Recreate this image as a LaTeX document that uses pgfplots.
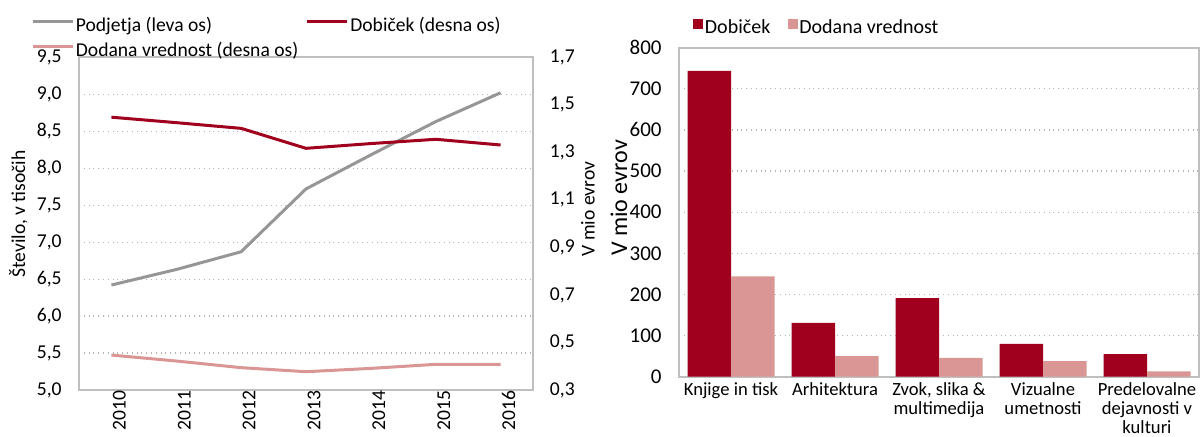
\documentclass[border=0pt]{standalone}
\usepackage{fontspec}
\setmainfont{Carlito}
\usepackage{pgfplots}
\pgfplotsset{compat=1.18}
\definecolor{dobicek}{HTML}{A0001E}
\definecolor{dodana}{HTML}{D99694}
\definecolor{podj}{HTML}{969696}
\definecolor{axgray}{HTML}{BFBFBF}
\definecolor{gridgray}{HTML}{B4B4B4}
\newcommand{\fs}{\fontsize{9.8}{10}\selectfont}
\pgfplotsset{
  common/.style={
    scale only axis,
    font=\fs,
    /pgf/number format/assume math mode=true,
    axis line style={axgray, line width=1pt},
    major tick length=0pt,
    tick style={draw=none},
    yticklabel style={inner sep=0pt},
    legend cell align=left,
  }
}
\begin{document}
\begin{tikzpicture}
\useasboundingbox (0,0) rectangle (600pt,218pt);

% ---------- left chart, left axis ----------
\begin{axis}[common,
  at={(39.5pt,23pt)}, anchor=south west,
  width=227pt, height=166.35pt,
  xmin=2009.5, xmax=2016.5,
  ymin=5, ymax=9.5,
  xtick={2010,2011,2012,2013,2014,2015,2016},
  xticklabels={2010,2011,2012,2013,2014,2015,2016},
  xticklabel style={rotate=90, anchor=east, inner sep=0pt, yshift=-4pt},
  ytick={5,5.5,6,6.5,7,7.5,8,8.5,9,9.5},
  yticklabel style={xshift=-8.5pt, /pgf/number format/.cd, fixed, fixed zerofill, precision=1, use comma},
  ymajorgrids, grid style={gridgray, dotted, line width=0.6pt},
  ylabel={Število, v tisočih},
  ylabel style={at={(axis description cs:-0.1335,0.529)}, anchor=center},
]
\addplot[podj, line width=1.5pt] coordinates {
 (2010,6.42) (2011,6.63) (2012,6.87) (2013,7.72) (2014,8.18) (2015,8.63) (2016,9.02)};
\end{axis}

% ---------- left chart, right axis ----------
\begin{axis}[common,
  at={(39.5pt,23pt)}, anchor=south west,
  width=227pt, height=166.35pt,
  xmin=2009.5, xmax=2016.5,
  ymin=0.3, ymax=1.7,
  axis x line=none,
  axis y line*=right,
  ytick={0.3,0.5,0.7,0.9,1.1,1.3,1.5,1.7},
  yticklabel style={xshift=8.3pt, /pgf/number format/.cd, fixed, fixed zerofill, precision=1, use comma},
  ylabel={V mio evrov},
  ylabel style={at={(axis description cs:1.121,0.544)}, anchor=center, rotate=0},
  legend columns=2,
  legend image code/.code={\draw[#1] (0pt,2.5pt) -- (20pt,2.5pt);},
  legend style={at={(axis description cs:-0.119,1.136)}, anchor=north west,
    draw=none, fill=none, font=\fs,
    nodes={inner sep=0.75pt, text height=7pt, text depth=2pt},
    row sep=2pt,
    /tikz/every even column/.append style={column sep=3pt}},
]
\addlegendimage{podj, line width=1.5pt}
\addlegendentry{Podjetja (leva os)}
\addplot[dobicek, line width=1.5pt] coordinates {
 (2010,1.448) (2011,1.425) (2012,1.401) (2013,1.317) (2014,1.337) (2015,1.355) (2016,1.331)};
\addlegendentry{Dobiček (desna os)}
\addplot[dodana, line width=1.5pt] coordinates {
 (2010,0.447) (2011,0.422) (2012,0.394) (2013,0.377) (2014,0.391) (2015,0.408) (2016,0.408)};
\addlegendentry{Dodana vrednost (desna os)}
\end{axis}

% ---------- right chart ----------
\begin{axis}[common,
  at={(339.5pt,29.65pt)}, anchor=south west,
  width=260pt, height=164.5pt,
  xmin=-0.5, xmax=4.5,
  ymin=0, ymax=800,
  ybar=0pt, bar width=21.75pt,
  xtick={0,1,2,3,4},
  xticklabels={Knjige in tisk, Arhitektura, {Zvok, slika \&\\multimedija}, {Vizualne\\umetnosti}, {Predelovalne\\dejavnosti v\\kulturi}},
  xticklabel style={align=center, inner sep=0pt, yshift=-2.5pt, font=\fontsize{9.3}{9.7}\selectfont},
  ytick={0,100,200,300,400,500,600,700,800},
  yticklabel style={xshift=-8.5pt, font=\fontsize{10.5}{11}\selectfont},
  ymajorgrids, grid style={gridgray, dotted, line width=0.6pt},
  ylabel={V mio evrov},
  ylabel style={at={(axis description cs:-0.1154,0.543)}, anchor=center, font=\fontsize{12}{13}\selectfont},
  legend columns=2,
  legend image code/.code={\fill[#1] (0pt,0pt) rectangle (5pt,5pt);},
  legend style={at={(axis description cs:0.0154,1.1024)}, anchor=north west,
    draw=none, fill=none, font=\fontsize{10}{11}\selectfont,
    nodes={inner sep=0.75pt, text height=7pt, text depth=2pt},
    /tikz/every even column/.append style={column sep=8pt}},
]
\addplot[fill=dobicek, draw=none] coordinates {(0,744) (1,131) (2,191) (3,80) (4,55)};
\addlegendentry{Dobiček}
\addplot[fill=dodana, draw=none] coordinates {(0,244) (1,50) (2,46) (3,38) (4,13)};
\addlegendentry{Dodana vrednost}
\end{axis}
\end{tikzpicture}
\end{document}
